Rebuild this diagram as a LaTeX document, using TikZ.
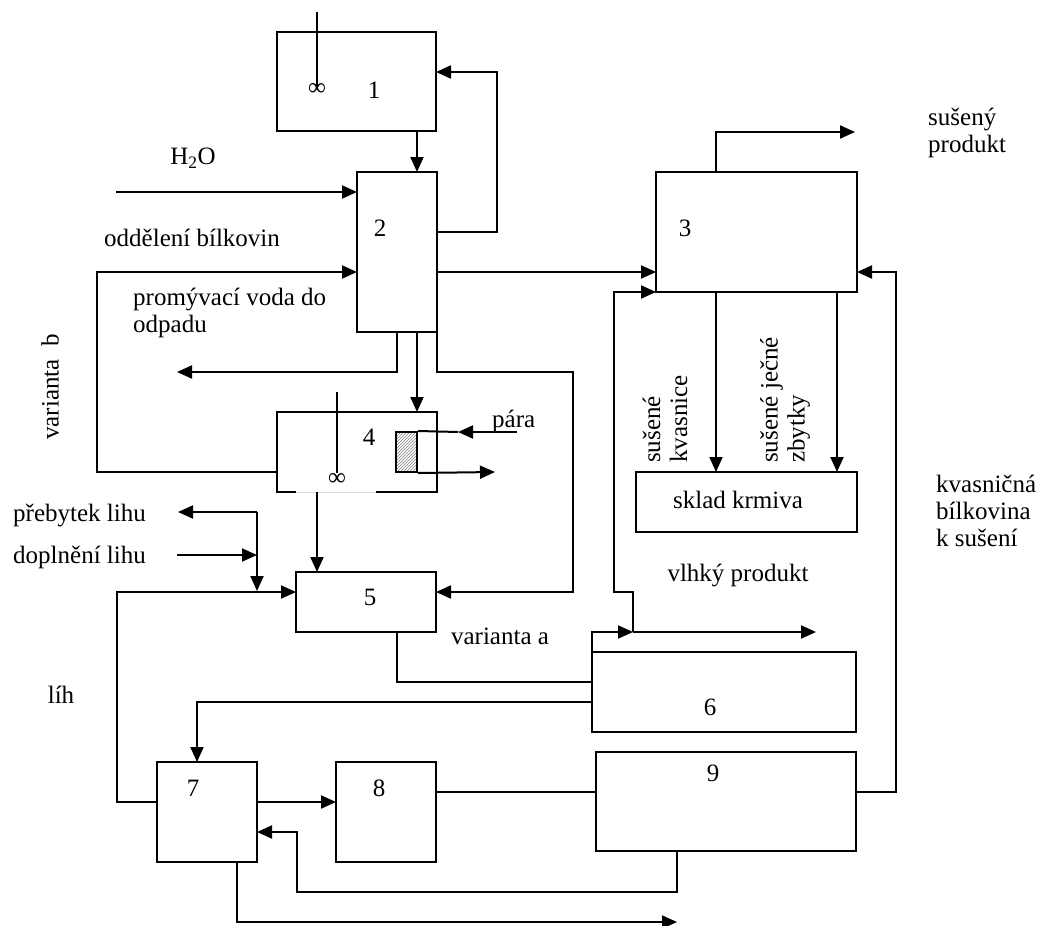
\documentclass[tikz,border=0pt]{standalone}
\usepackage{fontspec}
\setmainfont{Liberation Serif}
\usetikzlibrary{arrows.meta,patterns}
\begin{document}
\begin{tikzpicture}[x=1pt,y=-1pt,
  font=\fontsize{25}{27}\selectfont,
  every node/.style={inner sep=0pt},
  box/.style={draw,line width=2pt,inner sep=0pt,outer sep=0pt},
  conn/.style={line width=2pt,line join=miter},
  arr/.style={conn,-{Triangle[length=15pt,width=13pt]}},
  txt/.style={align=left,anchor=west}]
\useasboundingbox (0,0) rectangle (1039,926);
\fill[white] (0,0) rectangle (1039,926);

% boxes
\node[box,minimum width=159,minimum height=99] (b1) at (356.5,81.5) {};
\node[box,minimum width=80,minimum height=160] (b2) at (397,252) {};
\node[box,minimum width=201,minimum height=120] (b3) at (756.5,232) {};
\node[box,minimum width=160,minimum height=80] (b4) at (357,452) {};
\node[box,minimum width=140,minimum height=60] (b5) at (366,602) {};
\node[box,minimum width=264,minimum height=80] (b6) at (724,692) {};
\node[box,minimum width=100,minimum height=100] (b7) at (207,812) {};
\node[box,minimum width=100,minimum height=100] (b8) at (386,812) {};
\node[box,minimum width=260,minimum height=99] (b9) at (726,801.5) {};
\node[box,minimum width=221,minimum height=60] (sk) at (746.5,502) {};
\node[draw,line width=2pt,pattern=north east lines,pattern color=gray,minimum width=21,minimum height=40] (hx) at (406.5,452) {};

% gap in bottom of box 4
\draw[white,line width=2.6pt] (296,492) -- (376,492);
\draw[black!15,line width=1pt] (296,492) -- (376,492);

% labels of boxes
\node (l1) at (374,90) {1};
\node (l2) at (380,228) {2};
\node (l3) at (685,228) {3};
\node (l4) at (369,437) {4};
\node (l5) at (370,597) {5};
\node (l6) at (710,707) {6};
\node (l7) at (193,788) {7};
\node (l8) at (379,788) {8};
\node (l9) at (713,773) {9};
\node (lsk) at (738,500) {sklad krmiva};

% stirrers
\node (inf1) at (317,89) {∞};
\coordinate (st1) at (317,12);
\draw[conn] (st1) -- (inf1.center);
\node (inf4) at (337,479) {∞};
\coordinate (st4) at (337,392);
\draw[conn] (st4) -- ([yshift=6pt]inf4.center);

% texts
\node (th2o) at (193,158) {H\textsubscript{2}O};
\node[txt] (tod) at (104,238) {oddělení bílkovin};
\node[txt] (tpr) at (133,313) {promývací voda do\\odpadu};
\node[rotate=90] (tvb) at (50,387) {varianta\ \ b};
\node[txt] (tpa) at (492,421) {pára};
\node[txt] (tpl) at (13,515) {přebytek lihu};
\node[txt] (tdl) at (13,557) {doplnění lihu};
\node (tlih) at (61,695) {líh};
\node (tva) at (500,636) {varianta a};
\node (tvp) at (738,575) {vlhký produkt};
\node[txt] (tsp) at (928,133) {sušený\\produkt};
\node[txt] (tkb) at (936,511) {kvasničná\\bílkovina\\k sušení};
\node[rotate=90,align=left,anchor=west] (tsk) at (665,463) {sušené\\kvasnice};
\node[rotate=90,align=left,anchor=west] (tsj) at (785,463) {sušené ječné\\zbytky};

% 1 -> 2
\coordinate (x417) at (417,0);
\draw[arr] (b1.south -| x417) -- (b2.north -| x417);
% 2 -> 1
\coordinate (r1) at (497,232); \coordinate (r2) at (497,72);
\draw[arr] (b2.east |- r1) -- (r1) -- (r2) -- (b1.east |- r2);
% H2O
\coordinate (h2o) at (116,192);
\draw[arr] (h2o) -- (b2.west |- h2o);
% varianta b
\coordinate (vb1) at (97,472); \coordinate (vb2) at (97,272);
\draw[arr] (b4.west |- vb1) -- (vb1) -- (vb2) -- (b2.west |- vb2);
% 2 -> 3
\coordinate (y272) at (0,272);
\draw[arr] (b2.east |- y272) -- (b3.west |- y272);
% waste water
\coordinate (w1) at (397,372); \coordinate (w2) at (177,372);
\draw[arr] (b2.south) -- (w1) -- (w2);
% 2 -> 4
\draw[arr] (b2.south -| x417) -- (b4.north -| x417);
% 2 -> 5 (varianta a)
\coordinate (a1) at (437,372); \coordinate (a2) at (573,372); \coordinate (a3) at (573,592);
\draw[arr] (b2.south east) -- (a1) -- (a2) -- (a3) -- (b5.east |- a3);
% steam
\coordinate (pa1) at (517,432); \coordinate (pa2) at (458,432);
\draw[arr] (pa1) -- (pa2);
\draw[conn] (pa2) -- (hx.north east);
\coordinate (pa3) at (495,472);
\draw[arr] (hx.south east) -- (pa3);
% 4 -> 5
\coordinate (x317) at (317,0);
\draw[arr] (b4.south -| x317) -- (b5.north -| x317);
% alcohol excess / supplement
\coordinate (e1) at (257,512); \coordinate (e2) at (178,512); \coordinate (e3) at (257,591);
\draw[arr] (e1) -- (e2);
\draw[arr] (e1) -- (e3);
\coordinate (d1) at (177,555); \coordinate (d2) at (257,555);
\draw[arr] (d1) -- (d2);
% 7 -> 5 (lih)
\coordinate (lh1) at (117,802); \coordinate (lh2) at (117,592);
\draw[arr] (b7.west |- lh1) -- (lh1) -- (lh2) -- (b5.west |- lh2);
% 5 -> 6
\coordinate (v1) at (397,682);
\draw[conn] (b5.south -| v1) -- (v1) -- (b6.west |- v1);
% 6 -> 7
\coordinate (s1) at (197,702);
\draw[arr] (b6.west |- s1) -- (s1) -- (b7.north -| s1);
% 6 -> wet product
\coordinate (m1) at (592,632); \coordinate (m2) at (633,632); \coordinate (m3) at (816,632);
\draw[arr] (b6.north west) -- (m1) -- (m2);
\draw[arr] (m2) -- (m3);
% wet product -> 3
\coordinate (n1) at (633,592); \coordinate (n2) at (614,592); \coordinate (n3) at (614,292);
\draw[arr] (m2) -- (n1) -- (n2) -- (n3) -- (b3.south west);
% 3 -> dried product
\coordinate (p1) at (716,132); \coordinate (p2) at (855,132);
\draw[arr] (b3.north -| p1) -- (p1) -- (p2);
% 3 -> feed store
\draw[arr] (b3.south -| p1) -- (sk.north -| p1);
\coordinate (q1) at (837,0);
\draw[arr] (b3.south -| q1) -- (sk.north -| q1);
% 9 -> 3
\coordinate (t1) at (896,792); \coordinate (t2) at (896,272);
\draw[arr] (b9.east |- t1) -- (t1) -- (t2) -- (b3.east |- t2);
% 7 -> 8
\coordinate (y802) at (0,802);
\draw[arr] (b7.east |- y802) -- (b8.west |- y802);
% 8 -> 9
\draw[conn] (b8.east |- t1) -- (b9.west |- t1);
% 9 -> 7
\coordinate (u1) at (677,892); \coordinate (u2) at (297,892); \coordinate (u3) at (297,832);
\draw[arr] (b9.south -| u1) -- (u1) -- (u2) -- (u3) -- (b7.east |- u3);
% 7 -> out
\coordinate (o1) at (237,922); \coordinate (o2) at (677,922);
\draw[arr] (b7.south -| o1) -- (o1) -- (o2);
\end{tikzpicture}
\end{document}
